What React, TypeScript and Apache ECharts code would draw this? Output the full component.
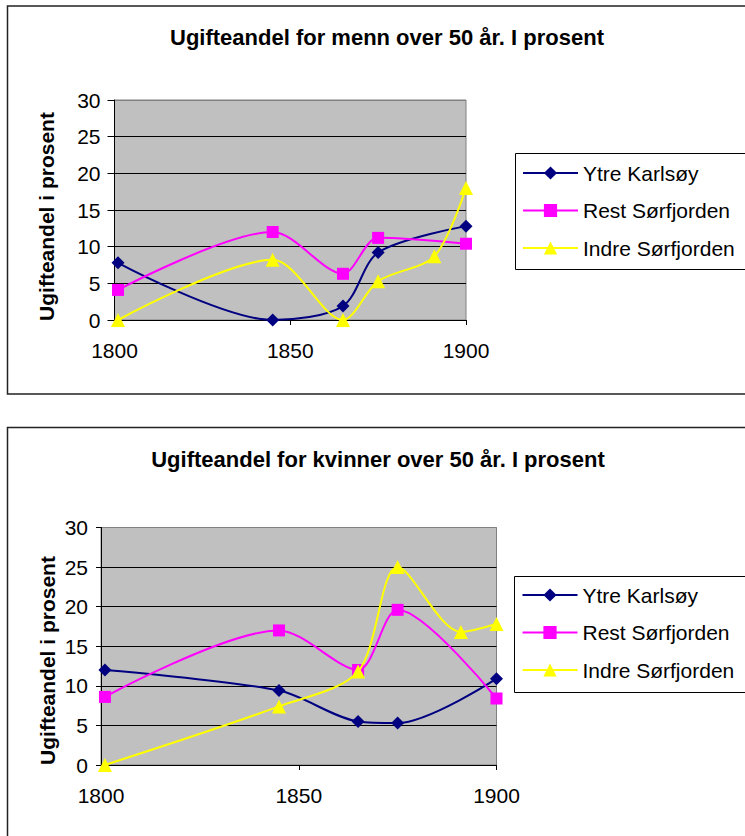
import React, { useEffect, useRef } from "react";
import * as echarts from "echarts";

// census years (x positions)
const years = [1801, 1845, 1865, 1875, 1891, 1900];
const seriesNames = ["Ytre Karlsøy", "Rest Sørfjorden", "Indre Sørfjorden"];

// men
const menKarlsoy = [7.8, 0, 1.9, 9.2, null, 12.8];
const menRest = [4.1, 12.0, 6.3, 11.2, null, 10.4];
const menIndre = [0, 8.2, 0, 5.3, 8.7, 18.0];

// women
const womenKarlsoy = [12.0, 9.4, 5.5, 5.3, null, 10.9];
const womenRest = [8.6, 17.0, 12.0, 19.6, null, 8.4];
const womenIndre = [0, 7.4, 11.8, 25.0, 16.8, 17.8];

const xMin = 1800;
const xMax = 1900;
const xInterval = 50;
const yMin = 0;
const yMax = 30;
const yInterval = 5;

const titles = [
  "Ugifteandel for menn over 50 år. I prosent",
  "Ugifteandel for kvinner over 50 år. I prosent",
];
const yAxisName = "Ugifteandel i prosent";

const FONT = "'Liberation Sans', Arial, sans-serif";
const seriesStyles = [
  { color: "#000080", symbol: "diamond", size: 13 },
  { color: "#FF00FF", symbol: "rect", size: 12 },
  { color: "#FFFF00", symbol: "triangle", size: 14 },
];

function pairs(vals: (number | null)[]) {
  const out: [number, number][] = [];
  vals.forEach((v, i) => {
    if (v !== null) out.push([years[i], v]);
  });
  return out;
}

export default function App() {
  const ref = useRef<HTMLDivElement>(null);

  useEffect(() => {
    if (!ref.current) return;
    const chart = echarts.init(ref.current, null, { renderer: "svg" });

    const groups = [
      { data: [menKarlsoy, menRest, menIndre] },
      { data: [womenKarlsoy, womenRest, womenIndre] },
    ];

    const grids = [
      { left: 114.5, top: 100, width: 351.5, height: 220 },
      { left: 101, top: 527.5, width: 395.5, height: 237.5 },
    ];

    const xAxes = grids.map((_, gi) => ({
      type: "value",
      gridIndex: gi,
      min: xMin,
      max: xMax,
      interval: xInterval,
      axisLine: { show: true, onZero: false, lineStyle: { color: "#000", width: 1 } },
      axisTick: { show: true, length: 5, lineStyle: { color: "#000" } },
      splitLine: { show: false },
      axisLabel: {
        margin: 20,
        color: "#000",
        fontSize: 21,
        fontFamily: FONT,
        formatter: (v: number) => String(v),
      },
    }));

    const yAxes = grids.map((_, gi) => ({
      type: "value",
      gridIndex: gi,
      min: yMin,
      max: yMax,
      interval: yInterval,
      axisLine: { show: true, lineStyle: { color: "#000", width: 1 } },
      axisTick: { show: true, length: gi === 0 ? 7 : 5, lineStyle: { color: "#000" } },
      splitLine: {
        show: true,
        lineStyle: {
          color: ["#000", "#000", "#000", "#000", "#000", "#000", "#808080"],
          width: 1,
        },
      },
      axisLabel: {
        margin: gi === 0 ? 14 : 13,
        color: "#000",
        fontSize: 21,
        fontFamily: FONT,
      },
    }));

    const series: any[] = [];
    groups.forEach((g, gi) => {
      g.data.forEach((vals, si) => {
        const st = seriesStyles[si];
        series.push({
          type: "line",
          name: seriesNames[si],
          xAxisIndex: gi,
          yAxisIndex: gi,
          data: pairs(vals),
          smooth: 0.3,
          symbol: st.symbol,
          symbolSize: st.size,
          showAllSymbol: true,
          lineStyle: { color: st.color, width: 2 },
          itemStyle: { color: st.color },
          z: 2 + si,
        });
      });
    });

    const legendTops = [161, 583];
    const legendLefts = [522, 521.5];
    const legends = grids.map((_, gi) => ({
      orient: "vertical",
      left: legendLefts[gi],
      top: legendTops[gi],
      padding: 0,
      itemWidth: 55,
      itemHeight: 16.5,
      itemGap: 13.5,
      data: seriesNames,
      textStyle: {
        fontSize: 21,
        lineHeight: 24,
        color: "#000",
        fontFamily: FONT,
      },
    }));

    const option: any = {
      animation: false,
      backgroundColor: "#fff",
      title: [
        {
          text: titles[0],
          left: 382,
          top: 21,
          textAlign: "center",
          textStyle: { fontSize: 22, fontWeight: "bold", color: "#000", fontFamily: FONT },
        },
        {
          text: titles[1],
          left: 373,
          top: 443,
          textAlign: "center",
          textStyle: { fontSize: 22, fontWeight: "bold", color: "#000", fontFamily: FONT },
        },
      ],
      grid: grids.map((g) => ({
        ...g,
        show: true,
        backgroundColor: "#C0C0C0",
        borderColor: "#808080",
        borderWidth: 1,
        containLabel: false,
      })),
      xAxis: xAxes,
      yAxis: yAxes,
      legend: legends,
      series,
      graphic: [
        {
          type: "rect",
          shape: { x: 7.5, y: 6, width: 760, height: 388 },
          style: { fill: "none", stroke: "#222", lineWidth: 1.5 },
          z: -10,
        },
        {
          type: "rect",
          shape: { x: 7.5, y: 427.5, width: 760, height: 430 },
          style: { fill: "none", stroke: "#222", lineWidth: 1.5 },
          z: -10,
        },
        {
          type: "rect",
          shape: { x: 515.5, y: 153.5, width: 260, height: 116 },
          style: { fill: "#fff", stroke: "#000", lineWidth: 1 },
          z: -5,
        },
        {
          type: "rect",
          shape: { x: 514.5, y: 576.5, width: 260, height: 116 },
          style: { fill: "#fff", stroke: "#000", lineWidth: 1 },
          z: -5,
        },
        {
          type: "text",
          x: 46.5,
          y: 216.5,
          rotation: Math.PI / 2,
          style: {
            text: yAxisName,
            fontSize: 21,
            fontWeight: "bold",
            fontFamily: FONT,
            fill: "#000",
            textAlign: "center",
            textVerticalAlign: "middle",
          },
        },
        {
          type: "text",
          x: 47.5,
          y: 660.5,
          rotation: Math.PI / 2,
          style: {
            text: yAxisName,
            fontSize: 21,
            fontWeight: "bold",
            fontFamily: FONT,
            fill: "#000",
            textAlign: "center",
            textVerticalAlign: "middle",
          },
        },
      ],
    };

    chart.setOption(option);
    return () => chart.dispose();
  }, []);

  return (
    <div
      ref={ref}
      style={{ position: "fixed", left: 0, top: 0, width: 745, height: 836 }}
    />
  );
}
